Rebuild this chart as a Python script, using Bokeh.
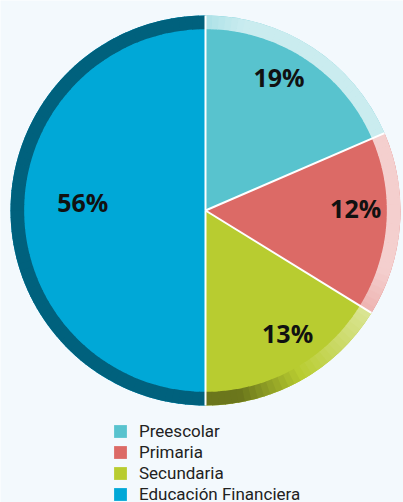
import math
from bokeh.plotting import figure
from bokeh.models import ColumnDataSource, Legend, LegendItem
from bokeh.core.properties import value
from bokeh.embed import file_html
from bokeh.resources import INLINE

# ---- data ----
categories = ["Preescolar", "Primaria", "Secundaria", "Educación Financiera"]
shares = [18.5, 15.3, 16.2, 50.0]          # slice sizes as drawn
pct_labels = ["19%", "12%", "13%", "56%"]  # printed labels
colors = ["#58c3ce", "#dc6a66", "#b8cc30", "#00a8d7"]

W, H = 403, 502
BG = "#f3f9fd"
p = figure(width=W, height=H, x_range=(0, W), y_range=(0, H),
           output_backend="svg", toolbar_location=None, min_border=0)
p.axis.visible = False
p.grid.visible = False
p.outline_line_color = None
p.background_fill_color = BG
p.border_fill_color = BG

cx, cy, R = 205, H - 210, 195
total = sum(shares)
starts, ends, mids = [], [], []
acc = 0.0
for s in shares:
    a0 = math.pi / 2 - 2 * math.pi * (acc + s) / total
    a1 = math.pi / 2 - 2 * math.pi * acc / total
    starts.append(a0); ends.append(a1); mids.append((a0 + a1) / 2)
    acc += s

src = ColumnDataSource(dict(cat=categories, start=starts, end=ends, color=colors))
main = p.wedge(x=cx, y=cy, radius=R, start_angle="start", end_angle="end",
               fill_color="color", line_color=None, source=src)


def hex2rgb(h):
    h = h.lstrip("#")
    return [int(h[i:i + 2], 16) for i in (0, 2, 4)]


def blend(c, target, t):
    r = [round(a + (b - a) * t) for a, b in zip(hex2rgb(c), target)]
    return "#%02x%02x%02x" % tuple(r)


# ---- shaded rim (3D look) ----
rs, re, rc = [], [], []
step = math.radians(2)
for a0, a1, col in zip(starts, ends, colors):
    n = max(1, int(math.ceil((a1 - a0) / step)))
    for k in range(n):
        b0 = a0 + (a1 - a0) * k / n
        b1 = a0 + (a1 - a0) * (k + 1) / n + 0.004
        m = (b0 + b1) / 2
        if math.cos(m) < -0.01:
            c = blend(col, (0, 0, 0), 0.42)
        else:
            sh = math.sin(m + math.radians(60))
            if sh >= 0:
                c = blend(col, (255, 255, 255), min(1.0, sh * 1.5) * 0.68)
            else:
                c = blend(col, (0, 0, 0), min(1.0, -sh * 3) * 0.42)
        rs.append(b0); re.append(min(b1, a1)); rc.append(c)

rim = ColumnDataSource(dict(start=rs, end=re, color=rc))
p.annular_wedge(x=cx, y=cy, inner_radius=R * 0.93, outer_radius=R,
                start_angle="start", end_angle="end", fill_color="color",
                line_color=None, source=rim)

# white separators
p.ray(x=cx, y=cy, length=R, angle=ends, line_color="white", line_width=2)

# ---- percentage labels ----
lx, ly = [], []
for s, m in zip(shares, mids):
    if s < 25:
        r, a = R * 0.77, m + math.radians(4)
    else:
        r, a = R * 0.63, m - math.radians(2.5)
    lx.append(cx + r * math.cos(a))
    ly.append(cy + r * math.sin(a))
p.text(x=lx, y=ly, text=pct_labels, text_align="center", text_baseline="middle",
       y_offset=-3,
       text_font=value("Open Sans"), text_font_style="bold",
       text_font_size="25px", text_color="#111111")

# ---- legend ----
legend = Legend(items=[LegendItem(label=c, renderers=[main], index=i)
                       for i, c in enumerate(categories)],
                location=(112, -2), orientation="vertical",
                glyph_width=16, glyph_height=16, label_height=21,
                label_width=150, spacing=0, padding=0, margin=0,
                label_standoff=11, border_line_color=None,
                background_fill_alpha=0,
                label_text_font="Roboto", label_text_font_size="17px",
                label_text_color="#222222")
p.add_layout(legend, "center")

open("out.html", "w").write(file_html(p, INLINE))
